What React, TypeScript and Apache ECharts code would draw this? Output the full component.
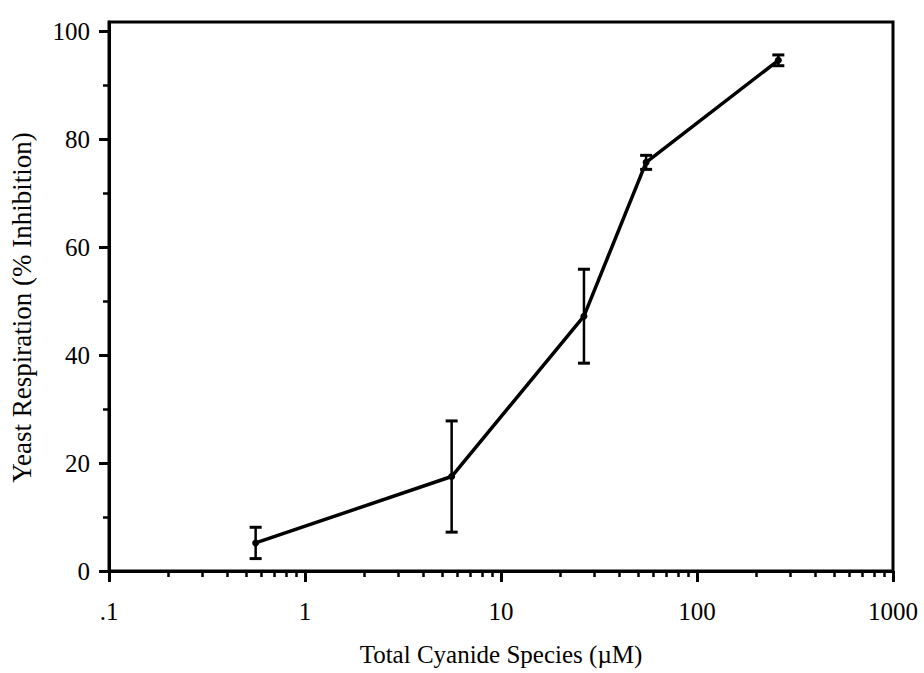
import React, { useEffect, useRef } from "react";
import * as echarts from "echarts";

// Data
const concentrations = [0.56, 5.6, 26.5, 55, 260]; // µM, log axis
const inhibition = [5.2, 17.5, 47.2, 75.7, 94.6]; // % inhibition
const inhibitionError = [2.9, 10.3, 8.7, 1.3, 1.0]; // ± error

// Tick values
const yMajorTicks = [0, 20, 40, 60, 80, 100];
const yMinorTicks = [10, 30, 50, 70, 90];
const xMajorTicks = [0.1, 1, 10, 100, 1000];
const xTickLabels = [".1", "1", "10", "100", "1000"];
const xMinorTicks = [
  0.2, 0.3, 0.4, 0.5, 0.6, 0.7, 0.8, 0.9,
  2, 3, 4, 5, 6, 7, 8, 9,
  20, 30, 40, 50, 60, 70, 80, 90,
  200, 300, 400, 500, 600, 700, 800, 900,
];

const X_MIN = 0.1;
const X_MAX = 1000;
const Y_MIN = 0;
const Y_MAX = 101.7;

const FONT = "'Liberation Serif', 'DejaVu Serif', serif";

export default function App() {
  const ref = useRef<HTMLDivElement>(null);

  useEffect(() => {
    if (!ref.current) return;
    const chart = echarts.init(ref.current, undefined, { renderer: "svg" });

    const labelFor = (v: number) => {
      let best = 0;
      for (let i = 0; i < xMajorTicks.length; i++) {
        if (Math.abs(Math.log10(xMajorTicks[i]) - Math.log10(v)) < Math.abs(Math.log10(xMajorTicks[best]) - Math.log10(v))) best = i;
      }
      return xTickLabels[best];
    };

    const points = concentrations.map((c, i) => [c, inhibition[i]]);
    const errData = concentrations.map((c, i) => [c, inhibition[i], inhibitionError[i]]);

    chart.setOption({
      animation: false,
      backgroundColor: "#fff",
      grid: {
        left: 109,
        right: 31,
        top: 22,
        bottom: 102,
        show: true,
        borderColor: "#000",
        borderWidth: 3,
        backgroundColor: "transparent",
      },
      xAxis: [
        {
          type: "log",
          logBase: 10,
          min: X_MIN,
          max: X_MAX,
          position: "bottom",
          name: "Total Cyanide Species (\u00b5M)",
          nameLocation: "middle",
          nameGap: 71,
          nameTextStyle: { fontFamily: FONT, fontSize: 25, color: "#000" },
          axisLine: { show: true, lineStyle: { color: "#000", width: 3 } },
          axisTick: { show: true, length: 11, customValues: xMajorTicks, lineStyle: { color: "#000", width: 3 } },
          axisLabel: {
            show: true,
            customValues: xMajorTicks,
            formatter: (v: number) => labelFor(v),
            fontFamily: FONT,
            fontSize: 25,
            color: "#000",
            margin: 28,
          },
          splitLine: { show: false },
          minorTick: { show: false },
        },
        {
          type: "log",
          logBase: 10,
          min: X_MIN,
          max: X_MAX,
          position: "bottom",
          axisLine: { show: false },
          axisTick: { show: true, length: 6, customValues: xMinorTicks, lineStyle: { color: "#000", width: 2.5 } },
          axisLabel: { show: false },
          splitLine: { show: false },
        },
      ],
      yAxis: [
        {
          type: "value",
          min: Y_MIN,
          max: Y_MAX,
          interval: 20,
          position: "left",
          name: "Yeast Respiration (% Inhibition)",
          nameLocation: "middle",
          nameGap: 74,
          nameTextStyle: { fontFamily: FONT, fontSize: 27, color: "#000", padding: [0, 22, 0, 0] },
          axisLine: { show: true, lineStyle: { color: "#000", width: 3 } },
          axisTick: { show: true, length: 10, customValues: yMajorTicks, lineStyle: { color: "#000", width: 3 } },
          axisLabel: {
            show: true,
            customValues: yMajorTicks,
            fontFamily: FONT,
            fontSize: 25,
            color: "#000",
            margin: 19,
          },
          splitLine: { show: false },
        },
        {
          type: "value",
          min: Y_MIN,
          max: Y_MAX,
          interval: 20,
          position: "left",
          axisLine: { show: false },
          axisTick: { show: true, length: 6, customValues: yMinorTicks, lineStyle: { color: "#000", width: 2.5 } },
          axisLabel: { show: false },
          splitLine: { show: false },
        },
      ],
      series: [
        {
          type: "line",
          data: points,
          xAxisIndex: 0,
          yAxisIndex: 0,
          symbol: "circle",
          symbolSize: 7,
          itemStyle: { color: "#000" },
          lineStyle: { color: "#000", width: 3.5 },
          z: 3,
        },
        {
          type: "custom",
          xAxisIndex: 0,
          yAxisIndex: 0,
          data: errData,
          encode: { x: 0, y: 1 },
          z: 4,
          renderItem: (params: any, api: any) => {
            const x = api.value(0);
            const y = api.value(1);
            const e = api.value(2);
            const top = api.coord([x, y + e]);
            const bot = api.coord([x, y - e]);
            const hw = 6;
            const style = { stroke: "#000", lineWidth: 2.5, fill: "none" };
            return {
              type: "group",
              children: [
                { type: "line", shape: { x1: top[0], y1: top[1], x2: bot[0], y2: bot[1] }, style },
                { type: "line", shape: { x1: top[0] - hw, y1: top[1], x2: top[0] + hw, y2: top[1] }, style: { ...style, lineWidth: 3 } },
                { type: "line", shape: { x1: bot[0] - hw, y1: bot[1], x2: bot[0] + hw, y2: bot[1] }, style: { ...style, lineWidth: 3 } },
              ],
            };
          },
        },
      ],
    });

    return () => chart.dispose();
  }, []);

  return (
    <div
      ref={ref}
      style={{ position: "fixed", left: 0, top: 0, width: 924, height: 673, background: "#fff" }}
    />
  );
}
